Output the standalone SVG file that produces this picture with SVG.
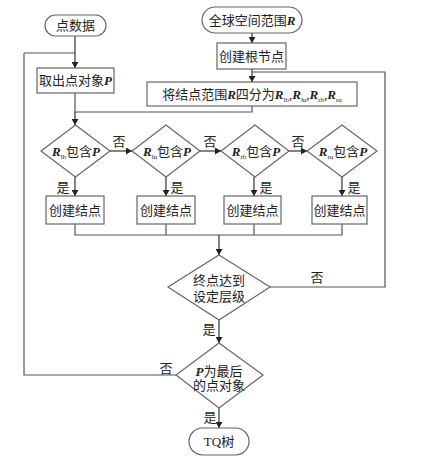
<svg xmlns="http://www.w3.org/2000/svg" width="429" height="460" viewBox="0 0 429 460">
<defs>
<marker id="ah" markerWidth="6" markerHeight="7" refX="6" refY="3.5" orient="auto" markerUnits="userSpaceOnUse">
<path d="M0,0 L6,3.5 L0,7 Z" fill="#222"/>
</marker>
<style>
.s{fill:#fff;stroke:#666;stroke-width:1.2}
.c{fill:none;stroke:#555;stroke-width:1.2}
.a{fill:none;stroke:#333;stroke-width:1.2;marker-end:url(#ah)}
text{font-family:"Liberation Serif","Noto Sans CJK SC",serif;font-size:13px;fill:#222;text-anchor:middle}
.v{font-style:italic;font-weight:bold}
.sub{font-size:7px;font-style:normal;font-weight:normal}
</style>
</defs>
<rect width="429" height="460" fill="#fff"/>
<g id="connectors">
<path class="a" d="M75,36 V68"/>
<path class="c" d="M24,53 H75"/>
<path class="c" d="M75,93 V112 H252 V106"/>
<path class="a" d="M75,112 V125"/>
<path class="a" d="M252,33 V43"/>
<path class="a" d="M252,69 V82"/>
<path class="c" d="M252,72 H385 V287 H270"/>
<path class="a" d="M110,151 H132"/>
<path class="a" d="M200,151 H221"/>
<path class="a" d="M289,151 H307"/>
<path class="a" d="M75,177 V196"/>
<path class="a" d="M166,177 V196"/>
<path class="a" d="M254,177 V196"/>
<path class="a" d="M342,177 V196"/>
<path class="c" d="M75,224 V235 H342 V224 M166,224 V235 M254,224 V235"/>
<path class="a" d="M219,235 V255"/>
<path class="a" d="M219,320 V343"/>
<path class="c" d="M176,375 H24 V53"/>
<path class="a" d="M219,408 V428"/>
<text x="119" y="146">否</text>
<text x="210" y="146">否</text>
<text x="298" y="146">否</text>
<text x="63" y="192">是</text>
<text x="177" y="192">是</text>
<text x="266" y="192">是</text>
<text x="354" y="192">是</text>
<text x="317" y="282">否</text>
<text x="209" y="334">是</text>
<text x="166" y="373">否</text>
<text x="210" y="422">是</text>
</g>
<g id="n_points"><rect class="s" x="45" y="15" width="61" height="21" rx="10.5"/><text x="75.5" y="30">点数据</text></g>
<g id="n_global"><rect class="s" x="202" y="7" width="100" height="26" rx="13"/><text x="252" y="25">全球空间范围<tspan class="v">R</tspan></text></g>
<g id="n_root"><rect class="s" x="217" y="43" width="69" height="26"/><text x="251.5" y="61">创建根节点</text></g>
<g id="n_take"><rect class="s" x="37" y="68" width="77" height="25"/><text x="75.5" y="85">取出点对象<tspan class="v">P</tspan></text></g>
<g id="n_split"><rect class="s" x="147" y="82" width="210" height="24"/><text x="252" y="99">将结点范围<tspan class="v">R</tspan>四分为<tspan class="v">R</tspan><tspan class="sub" dy="3">lb</tspan><tspan dy="-3">,</tspan><tspan class="v">R</tspan><tspan class="sub" dy="3">lu</tspan><tspan dy="-3">,</tspan><tspan class="v">R</tspan><tspan class="sub" dy="3">rb</tspan><tspan dy="-3">,</tspan><tspan class="v">R</tspan><tspan class="sub" dy="3">ru</tspan></text></g>
<g id="d_lb"><path class="s" d="M75.5,125 L110,151 L75.5,177 L41,151 Z"/><text x="76" y="156"><tspan class="v">R</tspan><tspan class="sub" dy="3">lb</tspan><tspan dy="-3">包含</tspan><tspan class="v">P</tspan></text></g>
<g id="d_lu"><path class="s" d="M166,125 L200,151 L166,177 L132,151 Z"/><text x="167" y="156"><tspan class="v">R</tspan><tspan class="sub" dy="3">lu</tspan><tspan dy="-3">包含</tspan><tspan class="v">P</tspan></text></g>
<g id="d_rb"><path class="s" d="M255,125 L289,151 L255,177 L221,151 Z"/><text x="256" y="156"><tspan class="v">R</tspan><tspan class="sub" dy="3">rb</tspan><tspan dy="-3">包含</tspan><tspan class="v">P</tspan></text></g>
<g id="d_ru"><path class="s" d="M342,125 L377,151 L342,177 L307,151 Z"/><text x="343" y="156"><tspan class="v">R</tspan><tspan class="sub" dy="3">ru</tspan><tspan dy="-3">包含</tspan><tspan class="v">P</tspan></text></g>
<g id="b1"><rect class="s" x="46" y="196" width="58" height="28"/><text x="75" y="215">创建结点</text></g>
<g id="b2"><rect class="s" x="137" y="196" width="58" height="28"/><text x="166" y="215">创建结点</text></g>
<g id="b3"><rect class="s" x="224" y="196" width="57" height="28"/><text x="252.5" y="215">创建结点</text></g>
<g id="b4"><rect class="s" x="312" y="196" width="55" height="28"/><text x="339.5" y="215">创建结点</text></g>
<g id="d_level"><path class="s" d="M219,255 L270,287 L219,320 L168,287 Z"/><text x="219" y="285">终点达到</text><text x="219" y="301">设定层级</text></g>
<g id="d_last"><path class="s" d="M219,343 L263,375 L219,408 L176,375 Z"/><text x="219" y="376"><tspan class="v">P</tspan>为最后</text><text x="219" y="390">的点对象</text></g>
<g id="n_tq"><rect class="s" x="189" y="428" width="60" height="27" rx="13.5"/><text x="219" y="446">TQ树</text></g>
</svg>
